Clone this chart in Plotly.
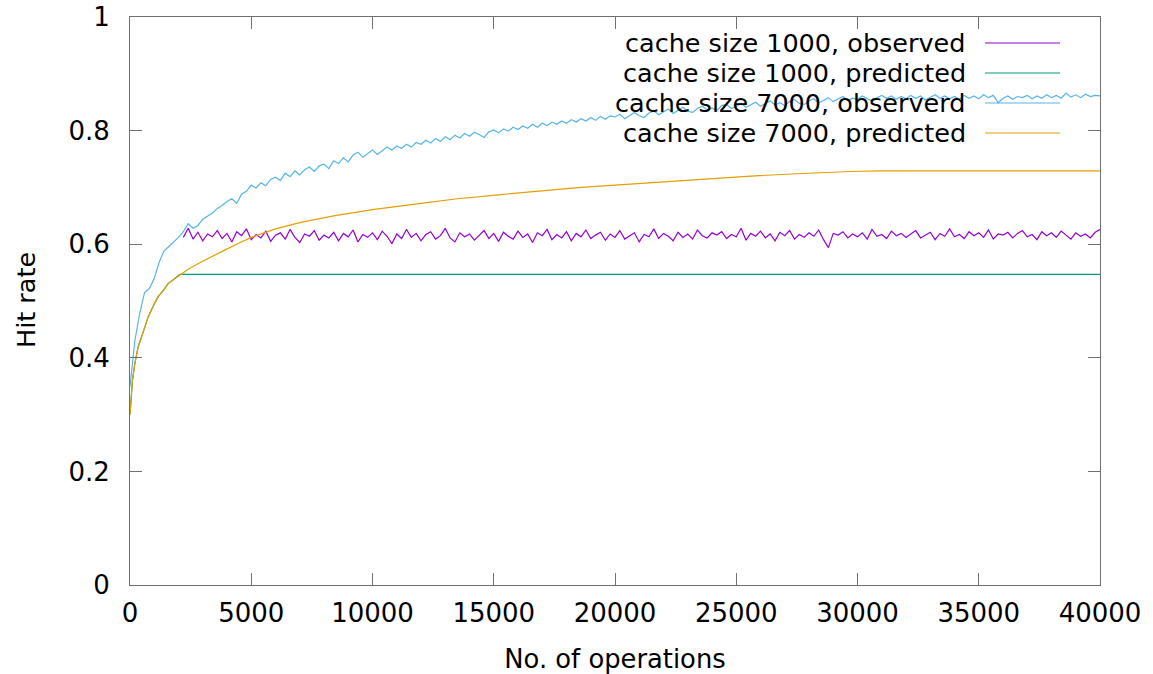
import plotly.graph_objects as go

# ---------------- data ----------------
step = 200
obs7000_x = list(range(0, 40001, step))
obs7000_y = [
    0.350, 0.430, 0.478, 0.515, 0.522, 0.540, 0.568, 0.588, 0.596, 0.604,
    0.612, 0.622, 0.636, 0.628, 0.633, 0.644, 0.650, 0.655, 0.663, 0.668,
    0.675, 0.680, 0.672, 0.688, 0.693, 0.704, 0.699, 0.708, 0.703, 0.714,
    0.718, 0.712, 0.725, 0.719, 0.729, 0.722, 0.731, 0.736, 0.728, 0.738,
    0.741, 0.733, 0.747, 0.742, 0.752, 0.745, 0.757, 0.762, 0.753, 0.760,
    0.766, 0.758, 0.764, 0.771, 0.766, 0.773, 0.769, 0.776, 0.771, 0.779,
    0.776, 0.783, 0.778, 0.786, 0.781, 0.789, 0.784, 0.792, 0.787, 0.795,
    0.790, 0.797, 0.793, 0.788, 0.798, 0.801, 0.796, 0.803, 0.799, 0.806,
    0.802, 0.808, 0.804, 0.811, 0.806, 0.813, 0.809, 0.815, 0.811, 0.817,
    0.813, 0.819, 0.815, 0.821, 0.817, 0.823, 0.818, 0.825, 0.820, 0.826,
    0.824, 0.829, 0.821, 0.827, 0.832, 0.826, 0.823, 0.831, 0.835, 0.828,
    0.833, 0.838, 0.830, 0.836, 0.841, 0.834, 0.832, 0.839, 0.843, 0.836,
    0.840, 0.835, 0.844, 0.846, 0.839, 0.843, 0.848, 0.841, 0.845, 0.850,
    0.843, 0.847, 0.852, 0.845, 0.849, 0.844, 0.851, 0.855, 0.848, 0.846,
    0.852, 0.856, 0.849, 0.853, 0.858, 0.851, 0.855, 0.860, 0.853, 0.857,
    0.855, 0.861, 0.856, 0.852, 0.858, 0.862, 0.857, 0.861, 0.855, 0.860,
    0.856, 0.862, 0.857, 0.861, 0.854, 0.859, 0.863, 0.857, 0.861, 0.856,
    0.860, 0.855, 0.862, 0.857, 0.861, 0.856, 0.863, 0.858, 0.862, 0.849,
    0.857, 0.861, 0.855, 0.860, 0.858, 0.862, 0.856, 0.861, 0.857, 0.863,
    0.858, 0.862, 0.857, 0.866, 0.859, 0.863, 0.858, 0.864, 0.860, 0.862,
    0.861,
]

obs1000_x = list(range(2200, 40001, step))
obs1000_y = [
    0.612, 0.628, 0.609, 0.621, 0.606, 0.618, 0.613, 0.624, 0.610, 0.619,
    0.604, 0.622, 0.615, 0.627, 0.608, 0.617, 0.611, 0.623, 0.605, 0.616,
    0.620, 0.609, 0.626, 0.612, 0.603, 0.618, 0.614, 0.624, 0.607, 0.616,
    0.611, 0.621, 0.606, 0.619, 0.613, 0.625, 0.604, 0.617, 0.612, 0.620,
    0.608, 0.623, 0.614, 0.601, 0.618, 0.610, 0.626, 0.612, 0.619, 0.606,
    0.617, 0.622, 0.609, 0.615, 0.628, 0.611, 0.604, 0.620, 0.613, 0.618,
    0.607, 0.616, 0.624, 0.610, 0.619, 0.605, 0.621, 0.614, 0.609, 0.623,
    0.612, 0.618, 0.603, 0.620, 0.615, 0.626, 0.608, 0.617, 0.611, 0.622,
    0.606, 0.619, 0.613, 0.625, 0.610, 0.616, 0.621, 0.607, 0.618, 0.612,
    0.624, 0.609, 0.615, 0.620, 0.604, 0.617, 0.613, 0.627, 0.610, 0.619,
    0.614, 0.606, 0.621, 0.612, 0.618, 0.609, 0.625, 0.615, 0.611, 0.620,
    0.616, 0.622, 0.610, 0.617, 0.613, 0.628, 0.607, 0.619, 0.614, 0.623,
    0.611, 0.618, 0.606, 0.621, 0.615, 0.624, 0.609, 0.617, 0.612, 0.620,
    0.614, 0.625, 0.608, 0.594, 0.619, 0.616, 0.622, 0.611, 0.618, 0.613,
    0.620, 0.609, 0.626, 0.614, 0.617, 0.610, 0.623, 0.615, 0.619, 0.612,
    0.618, 0.624, 0.611, 0.616, 0.621, 0.608, 0.619, 0.614, 0.627, 0.613,
    0.617, 0.610, 0.622, 0.615, 0.620, 0.612, 0.625, 0.609, 0.618, 0.616,
    0.621, 0.611, 0.619, 0.624, 0.613, 0.617, 0.608, 0.622, 0.615, 0.620,
    0.612, 0.623, 0.616, 0.609, 0.620, 0.614, 0.618, 0.611, 0.621, 0.626,
]

pred7000_x = [0, 100, 200, 340, 500, 750, 1000, 1170, 1400, 1580, 1800, 2060,
              2400, 2820, 3400, 3920, 4500, 5000, 6000, 7000, 8400, 10000,
              12000, 13500, 15200, 17000, 18600, 20000, 22000, 24000, 25600,
              27500, 29700, 31000, 40000]
pred7000_y = [0.300, 0.360, 0.390, 0.420, 0.440, 0.472, 0.495, 0.508, 0.520,
              0.531, 0.538, 0.546, 0.556, 0.566, 0.579, 0.590, 0.602, 0.612,
              0.627, 0.638, 0.650, 0.661, 0.672, 0.680, 0.687, 0.694, 0.700,
              0.704, 0.710, 0.715, 0.720, 0.724, 0.728, 0.729, 0.729]

pred1000_x = [0, 100, 200, 340, 500, 750, 1000, 1170, 1400, 1580, 1800, 2060, 40000]
pred1000_y = [0.300, 0.360, 0.390, 0.420, 0.440, 0.472, 0.495, 0.508, 0.520,
              0.531, 0.538, 0.547, 0.547]

series_names = ["cache size 1000, observed", "cache size 1000, predicted",
                "cache size 7000, observerd", "cache size 7000, predicted"]
series_colors = ["#9400D3", "#009E73", "#56B4E9", "#E69F00"]

x_ticks = list(range(0, 40001, 5000))
x_tick_text = [str(v) for v in x_ticks]
y_ticks = [0, 0.2, 0.4, 0.6, 0.8, 1]
y_tick_text = ["0", "0.2", "0.4", "0.6", "0.8", "1"]

# ---------------- figure ----------------
FONT = "DejaVu Sans"
W, H = 1153, 674
L, T = 130, 17
pw, ph = 970, 568
R, B = W - L - pw, H - T - ph

def px_x(px):  # window pixel -> paper x
    return (px - L) / pw

def px_y(py):  # window pixel -> paper y
    return (T + ph - py) / ph

fig = go.Figure()
data = [(obs1000_x, obs1000_y), (pred1000_x, pred1000_y),
        (obs7000_x, obs7000_y), (pred7000_x, pred7000_y)]
for (xs, ys), name, col in zip(data, series_names, series_colors):
    fig.add_trace(go.Scatter(x=xs, y=ys, mode="lines", name=name,
                             line=dict(color=col, width=1.2), showlegend=False))

# gnuplot-style legend: right aligned text, sample line on the right
row_px = [43, 73, 103, 133]
for name, col, py in zip(series_names, series_colors, row_px):
    yp = px_y(py)
    fig.add_annotation(xref="paper", yref="paper", x=px_x(968), y=yp,
                       xanchor="right", yanchor="middle", showarrow=False,
                       text=name, font=dict(family=FONT, size=25.5, color="black"))
    fig.add_shape(type="line", xref="paper", yref="paper",
                  x0=px_x(985), x1=px_x(1060), y0=yp, y1=yp,
                  line=dict(color=col, width=1.2))

# y-axis title (partly clipped at left edge, as in reference)
fig.add_annotation(xref="paper", yref="paper", x=px_x(26), y=px_y(300),
                   xanchor="center", yanchor="middle", showarrow=False,
                   text="Hit rate", textangle=-90,
                   font=dict(family=FONT, size=25.5, color="black"))

axis_common = dict(showline=True, linecolor="#707070", linewidth=1,
                   mirror="ticks", ticks="inside", ticklen=12, tickwidth=1,
                   tickcolor="#707070", showgrid=False, zeroline=False,
                   ticklabeloverflow="allow",
                   tickfont=dict(family=FONT, size=26, color="black"))

fig.update_xaxes(range=[0, 40000], tickvals=x_ticks, ticktext=x_tick_text,
                 ticklabelstandoff=5,
                 title=dict(text="No. of operations", standoff=24,
                            font=dict(family=FONT, size=25.8, color="black")),
                 **axis_common)
fig.update_yaxes(range=[0, 1], tickvals=y_ticks, ticktext=y_tick_text,
                 ticklabelstandoff=14, **axis_common)

fig.update_layout(width=W, height=H,
                  margin=dict(l=L, r=R, t=T, b=B, autoexpand=False),
                  plot_bgcolor="white", paper_bgcolor="white",
                  font=dict(family=FONT, size=25, color="black"))

fig.write_html("out.html", config={"displayModeBar": False},
               post_script="document.body.style.margin='0';document.body.style.padding='0';")
